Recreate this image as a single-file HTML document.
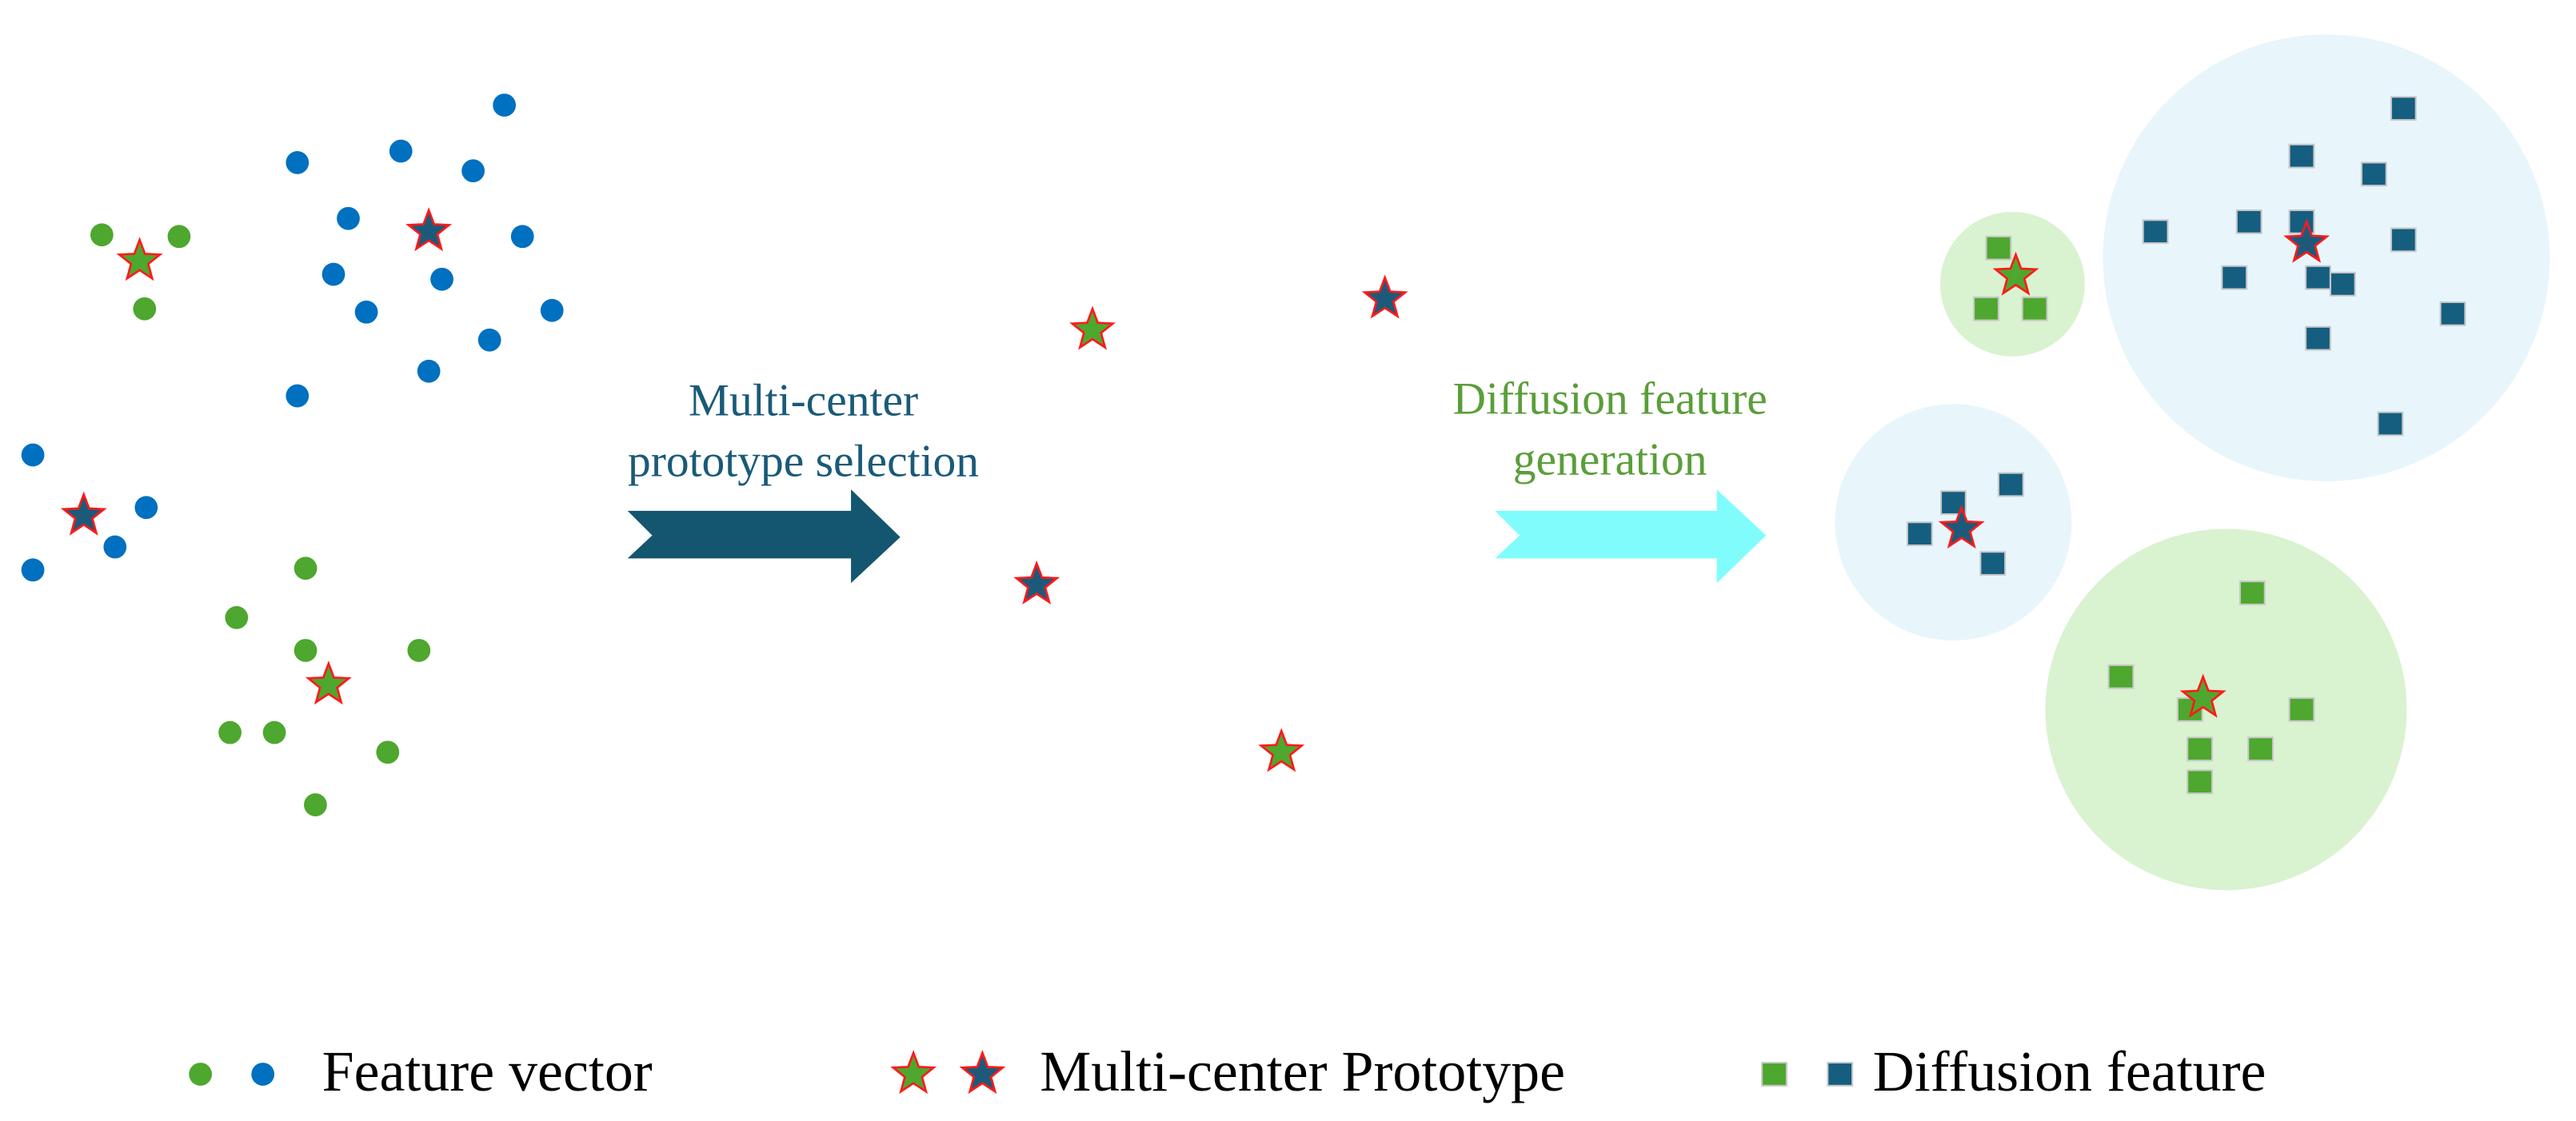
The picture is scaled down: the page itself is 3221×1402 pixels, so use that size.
<!DOCTYPE html>
<html><head><meta charset="utf-8"><style>html,body{margin:0;padding:0;background:#fff}svg{display:block}</style></head>
<body>
<svg width="3221" height="1402" viewBox="0 0 1568 682.5" xmlns="http://www.w3.org/2000/svg">
<defs>
<polygon id="st" points="0,-13 3.23,-4.45 12.36,-4.02 5.23,1.70 7.64,10.52 0,5.5 -7.64,10.52 -5.23,1.70 -12.36,-4.02 -3.23,-4.45" stroke="#ff1a1a" stroke-width="1.3" stroke-linejoin="miter"/>
<rect id="sq" x="-7.5" y="-7" width="15" height="14" stroke="#c8c8c8" stroke-width="1"/>
</defs>
<rect width="1568" height="682.5" fill="#fff"/>
<g fill="#0070c0">
<circle cx="307" cy="64" r="7"/><circle cx="181" cy="99" r="7"/><circle cx="244" cy="92" r="7"/><circle cx="288" cy="104" r="7"/><circle cx="212" cy="133" r="7"/><circle cx="318" cy="144" r="7"/><circle cx="203" cy="167" r="7"/><circle cx="269" cy="170" r="7"/><circle cx="223" cy="190" r="7"/><circle cx="336" cy="189" r="7"/><circle cx="298" cy="207" r="7"/><circle cx="261" cy="226" r="7"/><circle cx="181" cy="241" r="7"/>
<circle cx="20" cy="277" r="7"/><circle cx="89" cy="309" r="7"/><circle cx="70" cy="333" r="7"/><circle cx="20" cy="347" r="7"/>
</g>
<g fill="#4ea72e">
<circle cx="62" cy="143" r="7"/><circle cx="109" cy="144" r="7"/><circle cx="88" cy="188" r="7"/>
<circle cx="186" cy="346" r="7"/><circle cx="144" cy="376" r="7"/><circle cx="186" cy="396" r="7"/><circle cx="255" cy="396" r="7"/><circle cx="140" cy="446" r="7"/><circle cx="167" cy="446" r="7"/><circle cx="236" cy="458" r="7"/><circle cx="192" cy="490" r="7"/>
</g>
<use href="#st" x="85" y="159" fill="#4ea72e"/>
<use href="#st" x="261" y="141" fill="#1d5a7a"/>
<use href="#st" x="51" y="314" fill="#1d5a7a"/>
<use href="#st" x="200" y="417" fill="#4ea72e"/>

<g font-family="Liberation Serif, serif" font-size="28" fill="#1a5a78" text-anchor="middle">
<text x="489" y="253">Multi-center</text><text x="489" y="290">prototype selection</text></g>
<polygon points="382,311 518,311 518,298 548,327 518,355 518,340 382,340 397,326" fill="#145570"/>

<use href="#st" x="665" y="201" fill="#4ea72e"/>
<use href="#st" x="843" y="182" fill="#1d5a7a"/>
<use href="#st" x="631" y="356" fill="#1d5a7a"/>
<use href="#st" x="780" y="458" fill="#4ea72e"/>

<g font-family="Liberation Serif, serif" font-size="28" fill="#5a9e3a" text-anchor="middle">
<text x="980" y="252">Diffusion feature</text><text x="980" y="289">generation</text></g>
<polygon points="910,311 1045,311 1045,298 1075,326 1045,355 1045,340 910,340 925,326" fill="#80fcfc"/>

<circle cx="1225" cy="173" r="44" fill="#d9f2d0"/>
<circle cx="1416" cy="157" r="136" fill="#e8f6fc"/>
<circle cx="1189" cy="318" r="72" fill="#e8f6fc"/>
<circle cx="1355" cy="432" r="110" fill="#d9f2d0"/>

<g fill="#4ea72e">
<use href="#sq" x="1216.5" y="151"/><use href="#sq" x="1209" y="188"/><use href="#sq" x="1238.5" y="188"/>
<use href="#sq" x="1371" y="361"/><use href="#sq" x="1291" y="412"/><use href="#sq" x="1333" y="432"/><use href="#sq" x="1401" y="432"/><use href="#sq" x="1339" y="456"/><use href="#sq" x="1376" y="456"/><use href="#sq" x="1339" y="476"/>
</g>
<g fill="#155e80">
<use href="#sq" x="1463" y="66"/><use href="#sq" x="1401" y="95"/><use href="#sq" x="1445" y="106"/><use href="#sq" x="1312" y="141"/><use href="#sq" x="1369" y="135"/><use href="#sq" x="1401" y="135"/><use href="#sq" x="1463" y="146"/><use href="#sq" x="1360" y="169"/><use href="#sq" x="1411" y="169"/><use href="#sq" x="1426" y="173"/><use href="#sq" x="1493" y="191"/><use href="#sq" x="1411" y="206"/><use href="#sq" x="1455" y="258"/>
<use href="#sq" x="1189" y="306"/><use href="#sq" x="1224" y="295"/><use href="#sq" x="1168.5" y="325"/><use href="#sq" x="1213" y="343"/>
</g>
<use href="#st" x="1227" y="168" fill="#4ea72e"/>
<use href="#st" x="1404" y="148" fill="#1d5a7a"/>
<use href="#st" x="1194" y="322" fill="#1d5a7a"/>
<use href="#st" x="1341" y="425" fill="#4ea72e"/>

<circle cx="122" cy="654" r="7" fill="#4ea72e"/><circle cx="160" cy="654" r="7" fill="#0070c0"/>
<use href="#st" x="556" y="654" fill="#4ea72e"/><use href="#st" x="598" y="654" fill="#1d5a7a"/>
<use href="#sq" x="1080" y="654" fill="#4ea72e"/><use href="#sq" x="1120" y="654" fill="#155e80"/>
<g font-family="Liberation Serif, serif" font-size="35" fill="#000">
<text x="196" y="664">Feature vector</text>
<text x="633" y="664">Multi-center Prototype</text>
<text x="1140" y="664">Diffusion feature</text>
</g>
</svg>
</body></html>
